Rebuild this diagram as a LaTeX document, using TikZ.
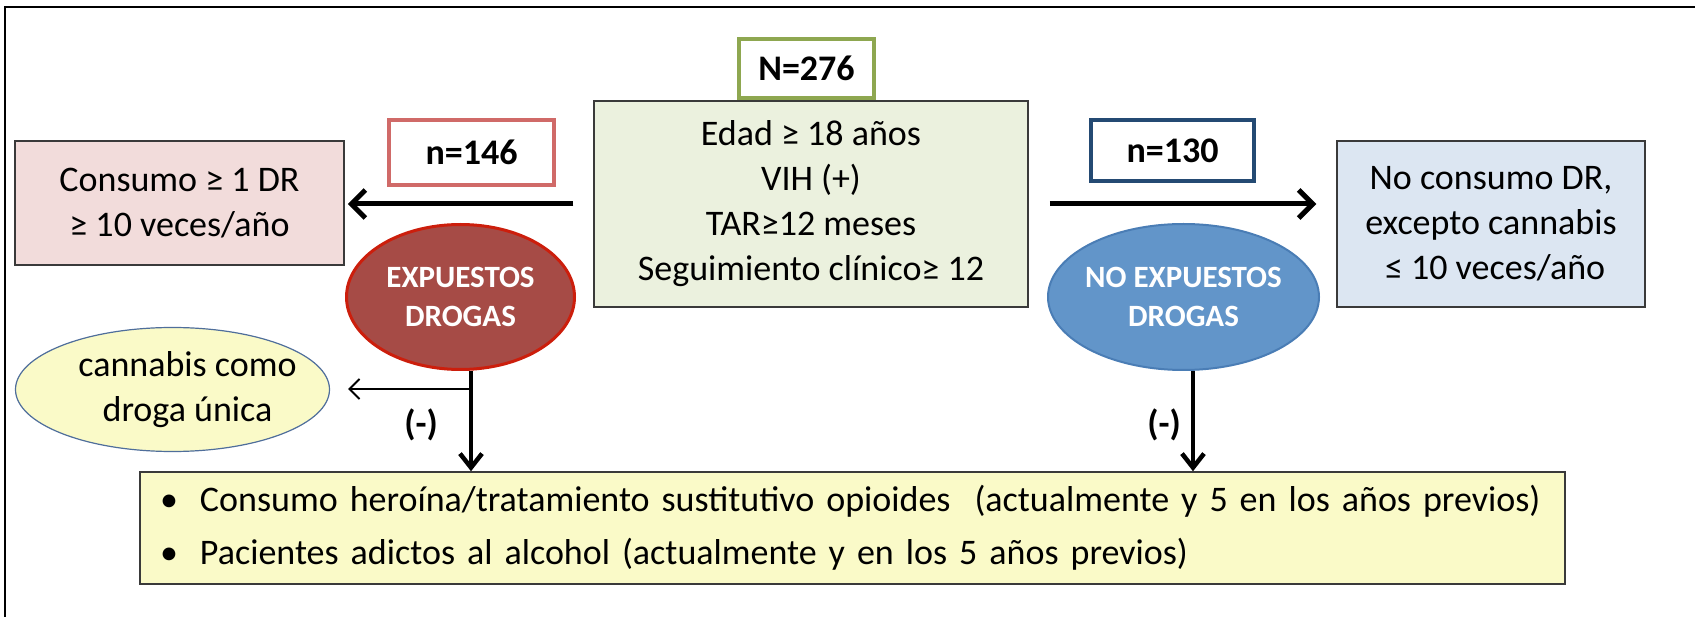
\documentclass[tikz,border=0pt]{standalone}
\usepackage{fontspec}
\setmainfont{Carlito}
\usetikzlibrary{shapes.geometric,arrows.meta}
\definecolor{pinkfill}{HTML}{F2DCDB}
\definecolor{greenfill}{HTML}{EBF1DE}
\definecolor{bluefill}{HTML}{DCE6F2}
\definecolor{yellowfill}{HTML}{FAFAC8}
\definecolor{redell}{HTML}{A64B46}
\definecolor{redborder}{HTML}{CC1E0C}
\definecolor{blueell}{HTML}{6295C9}
\definecolor{blueborder}{HTML}{4A7DB5}
\definecolor{nredb}{HTML}{D06A68}
\definecolor{nblueb}{HTML}{244A73}
\definecolor{ngreenb}{HTML}{8EA750}
\definecolor{boxborder}{HTML}{3A3A3A}
\definecolor{cannborder}{HTML}{4F6E9B}
\begin{document}
\begin{tikzpicture}[x=1pt,y=-1pt,
  txt/.style={font=\fontsize{36}{45}\selectfont},
  infobox/.style={draw=boxborder, line width=1.5pt, inner sep=0pt, align=center, txt},
  nbox/.style={draw, line width=4pt, fill=white, inner sep=0pt, font=\fontsize{36}{45}\selectfont\bfseries},
  ellbox/.style={ellipse, inner sep=0pt, align=center, text=white, font=\fontsize{31}{39}\selectfont\bfseries},
  bigarrow/.style={line width=5pt, -{Straight Barb[length=14pt,width=28pt]}},
  downarrow/.style={line width=4.5pt, -{Straight Barb[length=14pt,width=22pt]}},
  thinarrow/.style={line width=2pt, -{Straight Barb[length=10pt,width=20pt]}},
  minuslabel/.style={font=\fontsize{36}{45}\selectfont\bfseries}
]
\useasboundingbox (0,0) rectangle (1695,617);
\draw[line width=2.5pt] (5,617) -- (5,7) -- (1695,7);

\node[infobox, fill=greenfill, minimum width=434pt, minimum height=206pt] (crit) at (811,204)
  {Edad ≥ 18 años\\VIH (+)\\TAR≥12 meses\\Seguimiento clínico≥ 12};
\node[nbox, draw=ngreenb, minimum width=135pt, minimum height=59pt] (N) at (806.5,68.5) {N=276};

\node[infobox, fill=pinkfill, minimum width=329pt, minimum height=124pt] (pink) at (179.5,203)
  {Consumo ≥ 1 DR\\≥ 10 veces/año};
\node[nbox, draw=nredb, minimum width=165pt, minimum height=65pt] (n146) at (471.5,152.5) {n=146};
\node[nbox, draw=nblueb, minimum width=163pt, minimum height=61pt] (n130) at (1172.5,150.5) {n=130};
\node[infobox, fill=bluefill, minimum width=308pt, minimum height=166pt] (noc) at (1491,224)
  {No consumo DR,\\excepto cannabis\\\ ≤ 10 veces/año};

\node[ellbox, fill=redell, draw=redborder, line width=3pt, minimum width=228pt, minimum height=145pt] (exp) at (460.5,297)
  {\makebox[0pt]{EXPUESTOS}\\\makebox[0pt]{DROGAS}};
\node[ellbox, fill=blueell, draw=blueborder, line width=2pt, minimum width=271pt, minimum height=146pt] (noexp) at (1183.5,297)
  {\makebox[0pt]{NO EXPUESTOS}\\\makebox[0pt]{DROGAS}};
\node[ellipse, draw=cannborder, line width=1.2pt, fill=yellowfill, inner sep=0pt, align=center, txt,
  minimum width=314pt, minimum height=124pt] (cann) at (172.5,389.5)
  {\makebox[0pt]{\hspace*{30pt}cannabis como}\\\makebox[0pt]{\hspace*{30pt}droga única}};

\node[draw=boxborder, line width=1.5pt, fill=yellowfill, minimum height=112pt, inner xsep=20pt, inner ysep=0pt,
  text width=1385pt, align=left, txt] (bot) at (852.5,528)
  {\makebox[40pt][l]{\textbullet}Consumo heroína/tratamiento sustitutivo opioides\ \ (actualmente y 5 en los años previos)\\[8pt]\makebox[40pt][l]{\textbullet}Pacientes adictos al alcohol (actualmente y en los 5 años previos)};

\draw[bigarrow, shorten <=20pt, shorten >=3pt] (crit.west) -- (crit.west -| pink.east);
\draw[bigarrow, shorten <=21pt, shorten >=20pt] (crit.east) -- (crit.east -| noc.west);

\draw[downarrow] ([xshift=10.5pt]exp.south) -- ([xshift=10.5pt]exp.south |- bot.north);
\draw[downarrow] ([xshift=9.5pt]noexp.south) -- ([xshift=9.5pt]noexp.south |- bot.north);

\coordinate (branch) at (471,389);
\draw[thinarrow, shorten >=18pt] (branch) -- (branch -| cann.east);

\node[minuslabel] (m1) at (421,425) {(-)};
\node[minuslabel] (m2) at (1164,425) {(-)};
\end{tikzpicture}
\end{document}
